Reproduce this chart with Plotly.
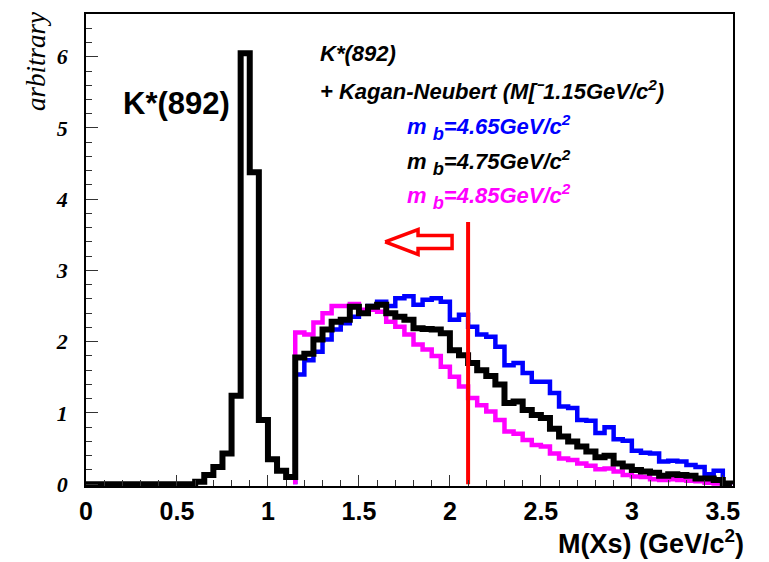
import plotly.graph_objects as go

# ---------------- data ----------------
BIN_W = 0.05
# K*(892) + Kagan-Neubert (mb=4.75) : black, bins from 0.0 to 3.55
kstar_start = 0.0
black_vals = [0.0]*12 + [0.035, 0.13, 0.24, 0.43, 1.24, 6.05, 4.38, 0.90, 0.35, 0.19, 0.10] + [
    1.78, 1.83, 2.03, 2.17, 2.28, 2.31, 2.49, 2.40, 2.49, 2.52,
    2.40, 2.35, 2.31, 2.19, 2.18, 2.17, 2.12, 1.88, 1.81, 1.70,
    1.60, 1.52, 1.40, 1.14, 1.16, 1.04, 0.97, 0.93, 0.78, 0.67,
    0.60, 0.53, 0.46, 0.38, 0.40, 0.29, 0.25, 0.20, 0.18, 0.16,
    0.12, 0.14, 0.13, 0.12, 0.08, 0.08, 0.06, 0.01]

kn_start = 1.15
blue_vals = [
    1.54, 1.74, 1.86, 2.03, 2.17, 2.26, 2.35, 2.42, 2.50, 2.56,
    2.50, 2.61, 2.64, 2.52, 2.59, 2.61, 2.56, 2.31, 2.38, 2.21,
    2.10, 2.07, 1.93, 1.67, 1.70, 1.56, 1.44, 1.44, 1.28, 1.09,
    1.07, 0.90, 0.89, 0.72, 0.80, 0.63, 0.61, 0.47, 0.44, 0.43,
    0.32, 0.33, 0.32, 0.27, 0.24, 0.14, 0.19, 0.01]
magenta_vals = [
    2.13, 2.10, 2.27, 2.40, 2.50, 2.50, 2.53, 2.45, 2.45, 2.42,
    2.28, 2.21, 2.10, 1.96, 1.89, 1.80, 1.65, 1.51, 1.37, 1.21,
    1.11, 1.02, 0.90, 0.74, 0.71, 0.62, 0.55, 0.53, 0.43, 0.36,
    0.34, 0.29, 0.26, 0.21, 0.22, 0.18, 0.13, 0.11, 0.10, 0.07,
    0.06, 0.07, 0.06, 0.05, 0.04, 0.02, 0.01, 0.01]

cut_x = 2.1
cut_top = 3.68

# hollow arrow (data units): tip, head base, tail, half heights
arrow_tip = (1.644, 3.40)
arrow_head_x = 1.825
arrow_tail_x = 2.012
arrow_head_half = 0.175
arrow_shaft_half = 0.09

x_ticks = [0, 0.5, 1, 1.5, 2, 2.5, 3, 3.5]
x_ticklabels = ["0", "0.5", "1", "1.5", "2", "2.5", "3", "3.5"]
y_ticks = [0, 1, 2, 3, 4, 5, 6]
y_ticklabels = ["0", "1", "2", "3", "4", "5", "6"]


def step_path(start, vals, w=BIN_W):
    xs = [start] + [start + i * w for i in range(len(vals))] + [start + len(vals) * w]
    ys = [0.0] + list(vals) + [0.0]
    return xs, ys


fig = go.Figure()
for vals, start, col, lw in [(blue_vals, kn_start, "#0000ff", 4.5),
                             (magenta_vals, kn_start, "#ff00ff", 4.5),
                             (black_vals, kstar_start, "#000000", 6)]:
    xs, ys = step_path(start, vals)
    fig.add_trace(go.Scatter(x=xs, y=ys, mode="lines", line=dict(color=col, width=lw, shape="hv"),
                             showlegend=False, hoverinfo="skip"))

fig.add_trace(go.Scatter(x=[cut_x, cut_x], y=[0, cut_top], mode="lines",
                         line=dict(color="#ff0000", width=4), showlegend=False, hoverinfo="skip"))

tx, ty = arrow_tip
ax = [tx, arrow_head_x, arrow_head_x, arrow_tail_x, arrow_tail_x, arrow_head_x, arrow_head_x, tx]
ay = [ty, ty + arrow_head_half, ty + arrow_shaft_half, ty + arrow_shaft_half,
      ty - arrow_shaft_half, ty - arrow_shaft_half, ty - arrow_head_half, ty]
fig.add_trace(go.Scatter(x=ax, y=ay, mode="lines", line=dict(color="#ff0000", width=3.5),
                         showlegend=False, hoverinfo="skip"))

L, R, T, B = 86, 36, 14, 76
W, H = 769, 562
pw, ph = W - L - R, H - T - B


def px(xp):
    return (xp - L) / pw


def py(yp):
    return (H - B - yp) / ph


sans_bi = dict(family="Liberation Sans, Arial, sans-serif", size=22, weight="bold", style="italic")
sub = "<span style='font-size:26px'><sub>b</sub></span>"
anns = [
    dict(x=px(318), y=py(53), text="K*(892)", font=dict(sans_bi, color="black")),
    dict(x=px(318), y=py(90), text="+ Kagan-Neubert (M[ˉ1.15GeV/c<sup>2</sup>)", font=dict(sans_bi, color="black")),
    dict(x=px(405), y=py(127), text="m " + sub + "=4.65GeV/c<sup>2</sup>", font=dict(sans_bi, color="#0000ff")),
    dict(x=px(405), y=py(162), text="m " + sub + "=4.75GeV/c<sup>2</sup>", font=dict(sans_bi, color="black")),
    dict(x=px(405), y=py(197), text="m " + sub + "=4.85GeV/c<sup>2</sup>", font=dict(sans_bi, color="#ff00ff")),
    dict(x=px(121), y=py(103), text="K*(892)",
         font=dict(family="Liberation Sans, Arial, sans-serif", size=31, weight="bold", color="black")),
]
for a in anns:
    a.update(xref="paper", yref="paper", xanchor="left", yanchor="middle", showarrow=False)

anns.append(dict(x=px(746), y=py(542), xref="paper", yref="paper", xanchor="right", yanchor="middle",
                 showarrow=False, text="M(Xs) (GeV/c<sup>2</sup>)",
                 font=dict(family="Liberation Sans, Arial, sans-serif", size=27, weight="bold", color="black")))
anns.append(dict(x=px(36), y=py(62), xref="paper", yref="paper", xanchor="center", yanchor="middle",
                 showarrow=False, text="arbitrary", textangle=-90,
                 font=dict(family="Liberation Serif, Times New Roman, serif", size=27, style="italic",
                           color="black")))

fig.update_layout(
    width=W, height=H, margin=dict(l=L, r=R, t=T, b=B),
    paper_bgcolor="white", plot_bgcolor="white",
    annotations=anns,
    xaxis=dict(range=[0, 3.556], tickvals=x_ticks, ticktext=x_ticklabels,
               ticks="inside", ticklen=11, tickwidth=1, tickcolor="#333",
               minor=dict(dtick=0.1, ticks="inside", ticklen=6, tickwidth=1, tickcolor="#333"),
               showline=True, linecolor="black", linewidth=1.5, mirror=True,
               showgrid=False, zeroline=False, ticklabelstandoff=2,
               tickfont=dict(family="Liberation Sans, Arial, sans-serif", size=25, weight="bold", color="black")),
    yaxis=dict(range=[-0.025, 6.6], tickvals=y_ticks, ticktext=y_ticklabels,
               ticks="inside", ticklen=12, tickwidth=1, tickcolor="#333",
               minor=dict(dtick=0.2, ticks="inside", ticklen=6, tickwidth=1, tickcolor="#333"),
               showline=True, linecolor="black", linewidth=1.5, mirror=True,
               showgrid=False, zeroline=False, ticklabelstandoff=12,
               tickfont=dict(family="Liberation Serif, Times New Roman, serif", size=22, weight="bold",
                             style="italic", color="black")),
)

fig.write_html("out.html")
